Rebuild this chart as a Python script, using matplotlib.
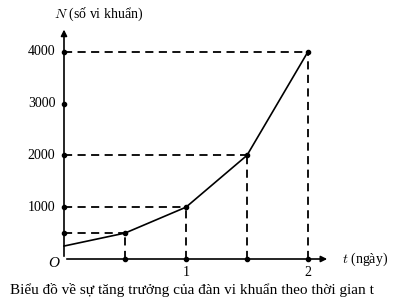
import matplotlib.pyplot as plt

plt.rcParams['font.family'] = ['Liberation Serif', 'DejaVu Serif']

# du lieu
t_ngay = [0, 0.5, 1, 1.5, 2]
so_vi_khuan = [250, 500, 1000, 2000, 4000]
y_ticks = [1000, 2000, 3000, 4000]
y_dots = [500, 1000, 2000, 3000, 4000]
x_ticks = [1, 2]

fig = plt.figure(figsize=(3.99, 3.0), dpi=100)
ax = fig.add_axes([0, 0, 1, 1])
ax.set_xlim(-0.5246, 2.746)
ax.set_ylim(-791, 4997)
ax.axis('off')

# truc toa do
ax.annotate('', xy=(2.18, 0), xytext=(0, 0),
            arrowprops=dict(arrowstyle='-|>', lw=1.2, color='black', mutation_scale=9))
ax.annotate('', xy=(0, 4480), xytext=(0, 0),
            arrowprops=dict(arrowstyle='-|>', lw=1.2, color='black', mutation_scale=9))

# duong gach
for t, n in zip(t_ngay[1:], so_vi_khuan[1:]):
    ax.plot([0, t], [n, n], ls=(0, (4.5, 3)), color='black', lw=1.3)
    ax.plot([t, t], [0, n], ls=(0, (4.5, 3)), color='black', lw=1.3)

# duong du lieu
ax.plot(t_ngay, so_vi_khuan, color='black', lw=1.2)
ax.plot(t_ngay[1:], so_vi_khuan[1:], 'o', color='black', ms=3)
ax.plot([0] * len(y_dots), y_dots, 'o', color='black', ms=3)
ax.plot(t_ngay[1:], [0] * 4, 'o', color='black', ms=3)

for v in y_ticks:
    ax.text(-0.07, v, str(v), ha='right', va='center', fontsize=10)
for v in x_ticks:
    ax.text(v, -130, str(v), ha='center', va='top', fontsize=10)
ax.text(-0.04, -80, 'O', ha='right', va='center', fontsize=11, style='italic')

ax.text(0.28, 4730, '$N$ (số vi khuẩn)', ha='center', va='center', fontsize=10,
        math_fontfamily='cm')
ax.text(2.28, 0, '$t$ (ngày)', ha='left', va='center', fontsize=10,
        math_fontfamily='cm')
ax.text(-0.445, -590, 'Biểu đồ về sự tăng trưởng của đàn vi khuẩn theo thời gian t',
        ha='left', va='center', fontsize=11)

fig.savefig('out.png', dpi=100)
